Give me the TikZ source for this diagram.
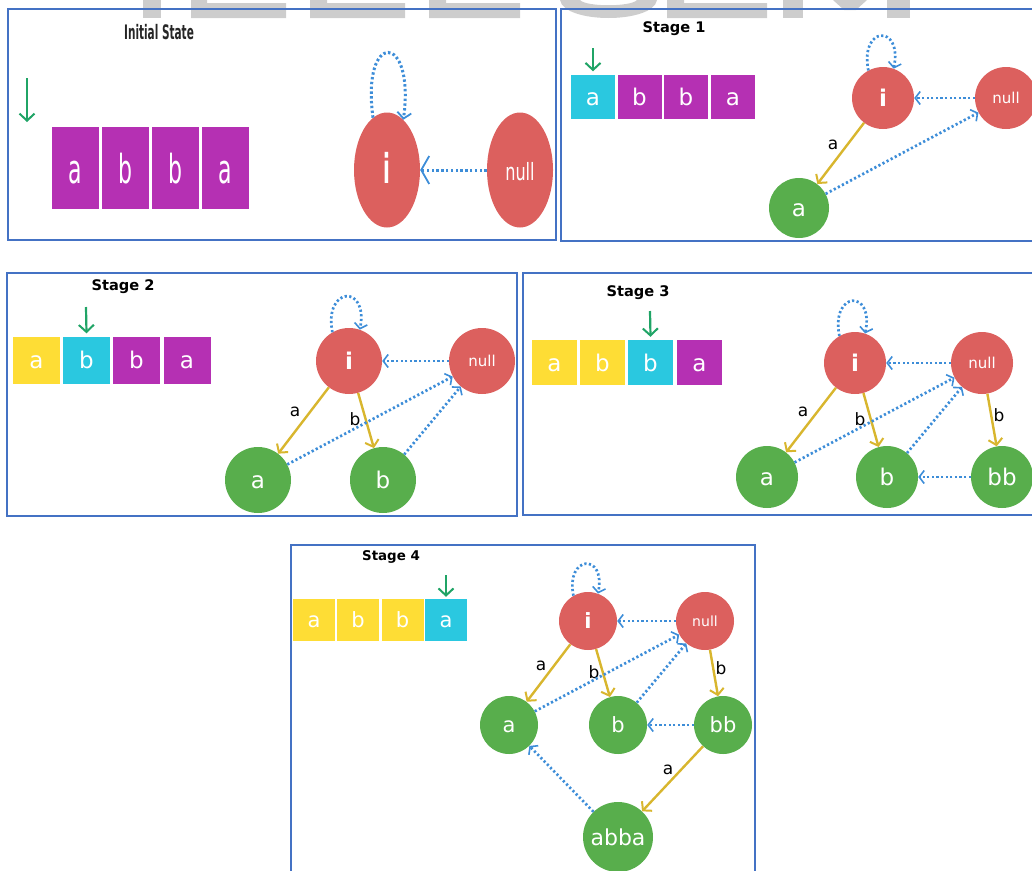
\documentclass[tikz,border=0pt]{standalone}
\usepackage{fontspec}
\setmainfont{DejaVu Sans}
\usetikzlibrary{arrows.meta,shapes.geometric}

\definecolor{frameblue}{HTML}{4472C4}
\definecolor{wmgray}{HTML}{CDCDCD}
\definecolor{cred}{HTML}{DC605E}
\definecolor{cgreen}{HTML}{58AE4C}
\definecolor{cmag}{HTML}{B530B3}
\definecolor{ccyan}{HTML}{2AC8E0}
\definecolor{cyel}{HTML}{FEDD35}
\definecolor{cgold}{HTML}{D8B62E}
\definecolor{cblue}{HTML}{3D8DD8}
\definecolor{cptr}{HTML}{20A466}

\tikzset{
  panel/.style={draw=frameblue, line width=1.6pt},
  wm/.style={fill=wmgray},
  cell/.style={inner sep=0pt, text=white, minimum width=#1, minimum height=#1, text depth=0pt},
  statenode/.style={circle, inner sep=0pt, text=white, minimum size=#1, text depth=0pt},
  redst/.style={statenode=#1, fill=cred},
  greenst/.style={statenode=#1, fill=cgreen},
  big/.style={font=\fontsize{23}{23}\selectfont, text height=17pt},
  mid/.style={font=\fontsize{21}{21}\selectfont, text height=15.5pt},
  nulltxt/.style={font=\fontsize{15}{15}\selectfont, text height=10.5pt},
  trans/.style={draw=cgold, line width=2.4pt,
    -{Straight Barb[length=6pt,width=14pt,line width=2pt]}},
  fail/.style={draw=cblue, line width=2.7pt, dash pattern=on 2.2pt off 2.4pt,
    -{Straight Barb[length=5pt,width=13pt,line width=1.6pt]}},
  elab/.style={inner sep=0pt, text=black, font=\fontsize{17}{17}\selectfont},
  ptr/.style={draw=cptr, line width=2.2pt,
    -{Straight Barb[length=7pt,width=15pt,line width=2pt]}},
  stagetitle/.style={inner sep=0pt, font=\bfseries\fontsize{14.6}{14.6}\selectfont},
}

\begin{document}
\begin{tikzpicture}[x=1pt,y=-1pt]
\useasboundingbox (0,0) rectangle (1032,870);
\clip (0,0) rectangle (1032,870);

% ---------- faint lettering along the top edge ----------
\fill[wm] (143,0) rectangle (161,18);
\fill[wm] (191,0) -- (207,0) -- (207,3) -- (286,3) -- (286,18) -- (191,18) -- cycle;
\fill[wm] (310,0) -- (327,0) -- (327,3) -- (405,3) -- (405,18) -- (310,18) -- cycle;
\fill[wm] (429,0) -- (446,0) -- (446,3) -- (520,3) -- (520,18) -- (429,18) -- cycle;
\fill[wm] (560,0) .. controls (564,24) and (653,24) .. (657,0) -- (637,0)
          .. controls (631,7) and (586,7) .. (580,0) -- cycle;
\fill[wm] (667,0) -- (684,0) -- (684,3) -- (767,3) -- (767,18) -- (667,18) -- cycle;
\fill[wm] (783,0) rectangle (803,18);
\fill[wm] (833,0) -- (867,0) -- (856,10) -- (844,10) -- cycle;
\fill[wm] (887,0) rectangle (910,18);

% ---------- frames ----------
\draw[panel] (8,9) rectangle (556,240);
\draw[panel] (561,9) rectangle (1040,241);
\draw[panel] (7,273) rectangle (517,516);
\draw[panel] (523,273) rectangle (1040,515);
\draw[panel] (291,545) rectangle (755,880);

% ================= Initial State =================
\node[inner sep=0pt, text=black!85, font=\bfseries\fontsize{10.5}{10.5}\selectfont]
  (t0) at (159,32) {\scalebox{1}[1.9]{Initial State}};
\tikzset{initcell/.style={inner sep=0pt, text=white, fill=cmag, minimum width=47pt,
  minimum height=82pt, text height=31pt, text depth=0pt, font=\fontsize{20}{20}\selectfont}}
\node[initcell] (c0a) at (75.5,167.5)  {\scalebox{1.1}[2]{a}};
\node[initcell] (c0b) at (125.5,167.5) {\scalebox{1.1}[2]{b}};
\node[initcell] (c0c) at (175.5,167.5) {\scalebox{1.1}[2]{b}};
\node[initcell] (c0d) at (225.5,167.5) {\scalebox{1.1}[2]{a}};
\coordinate (p0s) at (27,78);
\coordinate (p0e) at (27,122);
\draw[ptr] (p0s) -- (p0e);

\node[ellipse, fill=cred, inner sep=0pt, minimum width=66pt, minimum height=115pt,
  text=white, text height=26pt, text depth=0pt, font=\bfseries\fontsize{20}{20}\selectfont]
  (i0) at (387,170) {\scalebox{1}[2.05]{i}};
\node[ellipse, fill=cred, inner sep=0pt, minimum width=66pt, minimum height=115pt,
  text=white, text height=20pt, text depth=0pt, font=\fontsize{14}{14}\selectfont]
  (n0) at (520,170) {\scalebox{1.15}[1.7]{null}};
\draw[draw=cblue, line width=3pt, dash pattern=on 2.4pt off 2.4pt,
  -{Straight Barb[length=8pt,width=28pt,line width=1.8pt]}] (n0) -- (i0);
\draw[draw=cblue, line width=3pt, dash pattern=on 2.4pt off 2.4pt,
  -{Straight Barb[length=6pt,width=14pt,line width=1.8pt]}]
  (i0.105) .. controls +(-12,-88) and +(12,-88) .. (i0.72);

% ================= Stage 1 =================
\node[stagetitle] (t1) at (674,29) {Stage 1};
\node[cell=44pt, fill=ccyan, big] (c1a) at (593,96.5) {a};
\node[cell=44pt, fill=cmag, big]  (c1b) at (639.5,96.5) {b};
\node[cell=44pt, fill=cmag, big]  (c1c) at (686,96.5) {b};
\node[cell=44pt, fill=cmag, big]  (c1d) at (733,96.5) {a};
\coordinate (p1) at (593,48);
\draw[ptr] (p1) -- ([yshift=3pt]c1a.north);

\node[redst=62pt, big] (s1i) at (883,98) {\bfseries i};
\node[redst=62pt, nulltxt] (s1n) at (1006,98) {null};
\node[greenst=60pt, big] (s1a) at (799,208) {a};
\draw[trans] (s1i) -- (s1a);
\node[elab] (l1a) at (833,145) {a};
\draw[fail] (s1a) -- (s1n);
\draw[fail] (s1n) -- (s1i);
\draw[fail] (s1i.118) .. controls +(-9,-45) and +(9,-45) .. (s1i.70);

% ================= Stage 2 =================
\node[stagetitle] (t2) at (123,287) {Stage 2};
\node[cell=47pt, fill=cyel, big]  (c2a) at (36.5,360) {a};
\node[cell=47pt, fill=ccyan, big] (c2b) at (86.5,360) {b};
\node[cell=47pt, fill=cmag, big]  (c2c) at (136.5,360) {b};
\node[cell=47pt, fill=cmag, big]  (c2d) at (187,360) {a};
\coordinate (p2) at (86,307);
\draw[ptr] (p2) -- ([yshift=3pt]c2b.north);

\node[redst=66pt, big] (s2i) at (349,361) {\bfseries i};
\node[redst=66pt, nulltxt] (s2n) at (482,361) {null};
\node[greenst=66pt, big] (s2a) at (258,480) {a};
\node[greenst=66pt, big] (s2b) at (383,480) {b};
\draw[trans] (s2i) -- (s2a);
\draw[trans] (s2i) -- (s2b);
\node[elab] (l2a) at (295,412) {a};
\node[elab] (l2b) at (355,419) {b};
\draw[fail] (s2a) -- (s2n);
\draw[fail] (s2b) -- (s2n);
\draw[fail] (s2n) -- (s2i);
\draw[fail] (s2i.120) .. controls +(-9,-46) and +(9,-46) .. (s2i.71);

% ================= Stage 3 =================
\node[stagetitle] (t3) at (638,293) {Stage 3};
\node[cell=45pt, fill=cyel, big]  (c3a) at (554.5,362.5) {a};
\node[cell=45pt, fill=cyel, big]  (c3b) at (602.5,362.5) {b};
\node[cell=45pt, fill=ccyan, big] (c3c) at (650.5,362.5) {b};
\node[cell=45pt, fill=cmag, big]  (c3d) at (699.5,362.5) {a};
\coordinate (p3) at (650,311);
\draw[ptr] (p3) -- ([yshift=3pt]c3c.north);

\node[redst=62pt, big] (s3i) at (855,363) {\bfseries i};
\node[redst=62pt, nulltxt] (s3n) at (982,363) {null};
\node[greenst=62pt, big] (s3a) at (767,477) {a};
\node[greenst=62pt, big] (s3b) at (887,477) {b};
\node[greenst=62pt, big] (s3bb) at (1002,477) {bb};
\draw[trans] (s3i) -- (s3a);
\draw[trans] (s3i) -- (s3b);
\draw[trans] (s3n) -- (s3bb);
\node[elab] (l3a) at (803,412) {a};
\node[elab] (l3b) at (860,419) {b};
\node[elab] (l3bb) at (999,415) {b};
\draw[fail] (s3a) -- (s3n);
\draw[fail] (s3b) -- (s3n);
\draw[fail] (s3bb) -- (s3b);
\draw[fail] (s3n) -- (s3i);
\draw[fail] (s3i.120) .. controls +(-9,-45) and +(9,-45) .. (s3i.71);

% ================= Stage 4 =================
\node[stagetitle, font=\bfseries\fontsize{13.4}{13.4}\selectfont] (t4) at (391,557) {Stage 4};
\node[cell=42pt, fill=cyel, mid]  (c4a) at (314,620) {a};
\node[cell=42pt, fill=cyel, mid]  (c4b) at (358,620) {b};
\node[cell=42pt, fill=cyel, mid]  (c4c) at (402.5,620) {b};
\node[cell=42pt, fill=ccyan, mid] (c4d) at (446,620) {a};
\coordinate (p4) at (446,575);
\draw[ptr] (p4) -- ([yshift=2pt]c4d.north);

\node[redst=58pt, mid] (s4i) at (588,621) {\bfseries i};
\node[redst=58pt, font=\fontsize{14}{14}\selectfont, text height=10pt] (s4n) at (705,621) {null};
\node[greenst=58pt, mid] (s4a) at (509,725) {a};
\node[greenst=58pt, mid] (s4b) at (618,725) {b};
\node[greenst=58pt, mid] (s4bb) at (723,725) {bb};
\node[greenst=70pt, font=\fontsize{22}{22}\selectfont, text height=16.5pt] (s4abba) at (618,837) {abba};
\draw[trans] (s4i) -- (s4a);
\draw[trans] (s4i) -- (s4b);
\draw[trans] (s4n) -- (s4bb);
\draw[trans] (s4bb) -- (s4abba);
\node[elab] (l4a) at (541,666) {a};
\node[elab] (l4b) at (594,672) {b};
\node[elab] (l4bb) at (721,668) {b};
\node[elab] (l4abba) at (668,770) {a};
\draw[fail] (s4a) -- (s4n);
\draw[fail] (s4b) -- (s4n);
\draw[fail] (s4bb) -- (s4b);
\draw[fail] (s4n) -- (s4i);
\draw[fail] (s4abba) -- (s4a);
\draw[fail] (s4i.120) .. controls +(-8,-41) and +(8,-41) .. (s4i.70);
\end{tikzpicture}
\end{document}
